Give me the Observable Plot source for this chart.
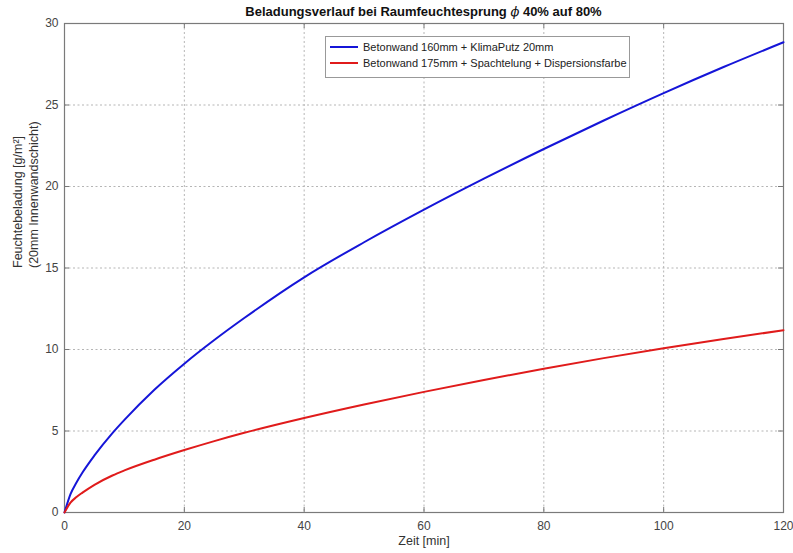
<!DOCTYPE html>
<html>
<head>
<meta charset="utf-8">
<script src="https://cdn.jsdelivr.net/npm/d3@7"></script>
<script src="https://cdn.jsdelivr.net/npm/@observablehq/plot@0.6"></script>
<style>
  html, body { margin: 0; padding: 0; background: #fff; }
  #wrap { position: relative; width: 793px; height: 553px; font-family: "Liberation Sans", Arial, sans-serif; }
  #title { position: absolute; left: 64px; width: 719px; top: 4px; text-align: center; font-weight: bold; font-size: 13px; color: #111; }
  #legend { position: absolute; left: 325px; top: 36px; width: 305px; height: 42px; border: 1px solid #999; background: #fff; font-size: 11px; color: #222; box-sizing: border-box; }
  .row { position: absolute; left: 4px; height: 14px; display: flex; align-items: center; white-space: nowrap; }
  .sw { width: 28px; height: 2px; margin-right: 5px; }
</style>
</head>
<body>
<div id="wrap">
  <div id="title"></div>
  <div id="legend"></div>
</div>
<script>
const titleText = "Beladungsverlauf bei Raumfeuchtesprung";
const titleTail = "40% auf 80%";
const xLabel = "Zeit [min]";
const yLabel = "Feuchtebeladung [g/m²]\n(20mm Innenwandschicht)";
const seriesNames = ["Betonwand 160mm + KlimaPutz 20mm", "Betonwand 175mm + Spachtelung + Dispersionsfarbe"];
const seriesColors = ["#1515d8", "#e01b1b"];
const xTicks = [0, 20, 40, 60, 80, 100, 120];
const yTicks = [0, 5, 10, 15, 20, 25, 30];
const times =    [0, 1,    2,    3,    5,    8,    10,   15,   20,   25,    30,    40,    50,    60,    70,    80,   90,    100,   110,   120];
const blueVals = [0, 1.13, 1.84, 2.45, 3.5,  4.87, 5.68, 7.53, 9.13, 10.58, 11.93, 14.43, 16.58, 18.58, 20.48, 22.3, 24.05, 25.73, 27.33, 28.85];
const redVals =  [0, 0.6,  0.95, 1.22, 1.7,  2.27, 2.58, 3.24, 3.83, 4.38,  4.89,  5.8,   6.63,  7.4,   8.13,  8.82, 9.47,  10.08, 10.65, 11.18];

const data = [];
times.forEach((t, i) => {
  data.push({t, v: blueVals[i], s: seriesNames[0]});
  data.push({t, v: redVals[i], s: seriesNames[1]});
});

document.getElementById("title").innerHTML = titleText + " <i style='font-weight:normal;font-family:\"DejaVu Serif\",serif'>ϕ</i> " + titleTail;

const leg = document.getElementById("legend");
seriesNames.forEach((n, i) => {
  const r = document.createElement("div");
  r.className = "row";
  r.style.top = (i === 0 ? 3 : 19) + "px";
  r.innerHTML = `<span class="sw" style="background:${seriesColors[i]}"></span><span>${n}</span>`;
  leg.appendChild(r);
});

const W = 793, H = 553, mL = 64, mR = 10, mT = 23, mB = 41;
const innerH = H - mT - mB, innerW = W - mL - mR;
const tickLen = 5;
const gridX = xTicks.slice(1, -1), gridY = yTicks.slice(1, -1);

const chart = Plot.plot({
  width: W, height: H,
  marginLeft: mL, marginRight: mR, marginTop: mT, marginBottom: mB,
  style: {fontFamily: "'Liberation Sans', Arial, sans-serif", fontSize: "12px", background: "transparent", color: "#444"},
  x: {domain: [0, 120], ticks: xTicks},
  y: {domain: [0, 30], ticks: yTicks},
  color: {domain: seriesNames, range: seriesColors},
  marks: [
    Plot.ruleX(gridX, {stroke: "#b5b5b5", strokeDasharray: "2,2.5", strokeWidth: 1}),
    Plot.ruleY(gridY, {stroke: "#b5b5b5", strokeDasharray: "2,2.5", strokeWidth: 1}),
    Plot.ruleX(xTicks, {stroke: "#777", insetTop: innerH - tickLen}),
    Plot.ruleX(xTicks, {stroke: "#777", insetBottom: innerH - tickLen}),
    Plot.ruleY(yTicks, {stroke: "#777", insetRight: innerW - tickLen}),
    Plot.ruleY(yTicks, {stroke: "#777", insetLeft: innerW - tickLen}),
    Plot.frame({stroke: "#7a7a7a", strokeWidth: 1.2}),
    Plot.axisX({ticks: xTicks, tickSize: 0, tickPadding: 9, label: null, fontSize: 12, fill: "#444"}),
    Plot.axisY({ticks: yTicks, tickSize: 0, tickPadding: 6, label: null, fontSize: 12, fill: "#444"}),
    Plot.line(data, {x: "t", y: "v", z: "s", stroke: "s", strokeWidth: 2, curve: "monotone-x"}),
    Plot.text([xLabel], {frameAnchor: "bottom", dy: 32, fontSize: 12.5, fill: "#333"}),
    Plot.text([yLabel], {frameAnchor: "left", rotate: -90, dx: -40, fontSize: 12.5, fill: "#333", lineHeight: 1.3})
  ]
});
document.getElementById("wrap").insertBefore(chart, document.getElementById("title"));
chart.style.position = "absolute";
chart.style.left = "0px";
chart.style.top = "0px";
</script>
</body>
</html>
